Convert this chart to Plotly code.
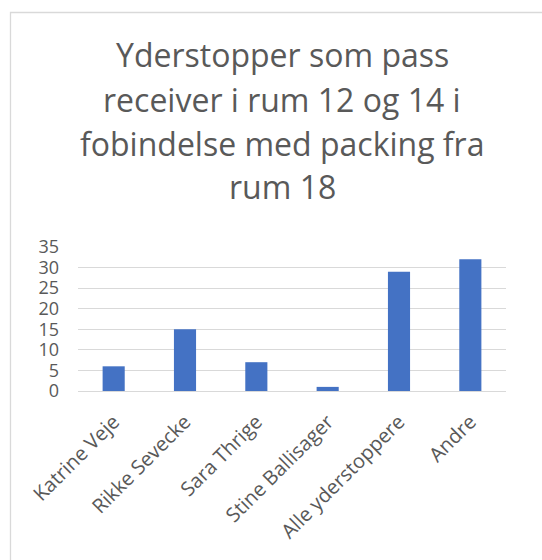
import plotly.graph_objects as go

categories = ["Katrine Veje", "Rikke Sevecke", "Sara Thrige", "Stine Ballisager", "Alle yderstoppere", "Andre"]
values = [6, 15, 7, 1, 29, 32]
title_lines = ["Yderstopper som pass", "receiver i rum 12 og 14 i", "fobindelse med packing fra", "rum 18"]
y_ticks = [0, 5, 10, 15, 20, 25, 30, 35]

W, H = 542, 560
L, R, T, B = 78, 36, 247, 169
PW, PH = W - L - R, H - T - B

def px_x(px):
    return (px - L) / PW

def px_y(py):
    return (H - B - py) / PH

GRAY = "#595959"
FONT = "Open Sans"

fig = go.Figure(go.Bar(
    x=categories, y=values,
    marker=dict(color="#4472C4", line=dict(width=0)),
    width=0.31,
))

annotations = []
centers = [55, 99, 143, 186]
for line, cy in zip(title_lines, centers):
    annotations.append(dict(
        text=line, xref="paper", yref="paper", x=px_x(282), y=px_y(cy),
        xanchor="center", yanchor="middle", showarrow=False,
        font=dict(family=FONT, size=32, color=GRAY),
    ))

fig.update_layout(
    width=W, height=H,
    margin=dict(l=L, r=R, t=T, b=B, pad=0, autoexpand=False),
    paper_bgcolor="white", plot_bgcolor="white",
    showlegend=False,
    annotations=annotations,
    shapes=[dict(
        type="path", xref="paper", yref="paper",
        path=f"M {px_x(10.5)} {px_y(600)} L {px_x(10.5)} {px_y(12.5)} L {px_x(600)} {px_y(12.5)}",
        line=dict(color="#d9d9d9", width=1.3),
    )],
    xaxis=dict(
        tickangle=-45, tickfont=dict(family=FONT, size=20, color=GRAY),
        showgrid=False, showline=True, linecolor="#d9d9d9", linewidth=1.3,
        ticks="", zeroline=False, ticklabelstandoff=10, automargin=False,
    ),
    yaxis=dict(
        range=[0, 35], tickvals=y_ticks,
        tickfont=dict(family=FONT, size=18, color=GRAY),
        showgrid=True, gridcolor="#d9d9d9", gridwidth=1.3,
        zeroline=False, showline=False, ticks="", ticklabelstandoff=18,
        automargin=False,
    ),
)

fig.write_html("out.html", config={"displayModeBar": False},
               post_script="document.body.style.margin='0';document.body.style.overflow='hidden';")
